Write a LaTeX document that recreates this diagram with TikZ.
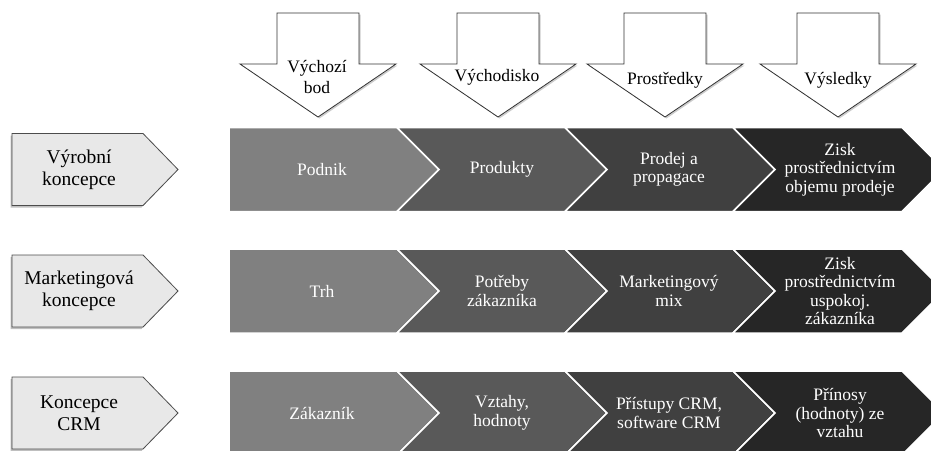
\documentclass[tikz,border=0pt]{standalone}
\usepackage{fontspec}
\setmainfont{Liberation Serif}
\usetikzlibrary{shadows}

\tikzset{
  stage/.style={draw=white, line width=1.5pt},
  downarrow/.style={draw=black!80, fill=white, line width=0.8pt,
    drop shadow={shadow xshift=1.5pt, shadow yshift=-1.5pt, opacity=0.4}},
  conceptbox/.style={draw=black!70, fill=black!9, line width=0.8pt,
    drop shadow={shadow xshift=-1.5pt, shadow yshift=-2pt, opacity=0.5}},
  stagetext/.style={text=white, align=center, font=\fontsize{17.5}{18.5}\selectfont},
  arrowtext/.style={align=center, font=\fontsize{17.5}{21}\selectfont},
  concepttext/.style={align=center, font=\fontsize{19.5}{22}\selectfont},
}

\begin{document}
\begin{tikzpicture}[x=1pt,y=-1pt]
\useasboundingbox (0,0) rectangle (931,450);
% rows of chevrons
\foreach \yc in {169.5,291,413} {
  \path[stage, fill=black!50] (229,\yc-42) -- (397,\yc-42) -- (439,\yc) -- (397,\yc+42) -- (229,\yc+42) -- cycle;
  \path[stage, fill=black!65] (397,\yc-42) -- (565,\yc-42) -- (607,\yc) -- (565,\yc+42) -- (397,\yc+42) -- (439,\yc) -- cycle;
  \path[stage, fill=black!75] (565,\yc-42) -- (733,\yc-42) -- (775,\yc) -- (733,\yc+42) -- (565,\yc+42) -- (607,\yc) -- cycle;
  \path[stage, fill=black!85] (733,\yc-42) -- (902,\yc-42) -- (944,\yc) -- (902,\yc+42) -- (733,\yc+42) -- (775,\yc) -- cycle;
  % concept label
  \path[conceptbox] (12,\yc-36) -- (143,\yc-36) -- (178,\yc) -- (143,\yc+36) -- (12,\yc+36) -- cycle;
}
% arrows on top
\foreach \cx in {318,498,665,838}
  \path[downarrow] (\cx-41,13) -- (\cx+41,13) -- (\cx+41,64) -- (\cx+78,64) -- (\cx,117) -- (\cx-78,64) -- (\cx-41,64) -- cycle;

\node[arrowtext] (bod) at (317,77) {Výchozí\\bod};
\node[arrowtext] (vych) at (497,77) {Východisko};
\node[arrowtext] (prost) at (665,80) {Prostředky};
\node[arrowtext] (vysl) at (838,80) {Výsledky};

\node[concepttext] (vyrobni) at (79,169.5) {Výrobní\\koncepce};
\node[concepttext] (marketing) at (79,291) {Marketingová\\koncepce};
\node[concepttext] (crm) at (79,413) {Koncepce\\CRM};

\node[stagetext] (podnik) at (322,169.5) {Podnik};
\node[stagetext] (produkty) at (502,169.5) {Produkty};
\node[stagetext] (prodej) at (669,169.5) {Prodej a\\propagace};
\node[stagetext] (ziskobj) at (840,169.5) {Zisk\\prostřednictvím\\objemu prodeje};

\node[stagetext] (trh) at (322,291) {Trh};
\node[stagetext] (potreby) at (502,291) {Potřeby\\zákazníka};
\node[stagetext] (mix) at (669,291) {Marketingový\\mix};
\node[stagetext] (ziskusp) at (840,291) {Zisk\\prostřednictvím\\uspokoj.\\zákazníka};

\node[stagetext] (zakaznik) at (322,413) {Zákazník};
\node[stagetext] (vztahy) at (502,413) {Vztahy,\\hodnoty};
\node[stagetext] (pristupy) at (669,413) {Přístupy CRM,\\software CRM};
\node[stagetext] (prinosy) at (840,413) {Přínosy\\(hodnoty) ze\\vztahu};
\end{tikzpicture}
\end{document}
